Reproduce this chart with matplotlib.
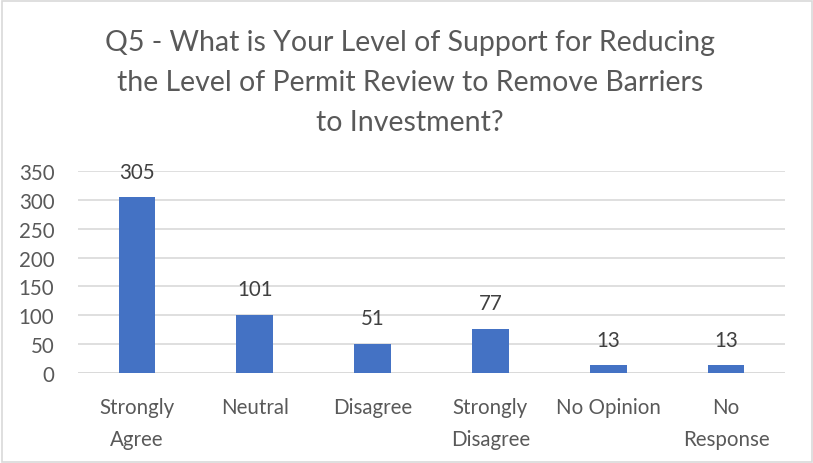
import matplotlib
matplotlib.use("Agg")
import matplotlib.pyplot as plt
from matplotlib.patches import Rectangle

categories = ["Strongly\nAgree", "Neutral", "Disagree", "Strongly\nDisagree", "No Opinion", "No\nResponse"]
values = [305, 101, 51, 77, 13, 13]
yticks = [0, 50, 100, 150, 200, 250, 300, 350]
title = "Q5 - What is Your Level of Support for Reducing\nthe Level of Permit Review to Remove Barriers\nto Investment?"

plt.rcParams['font.family'] = ['Lato', 'DejaVu Sans']
W, H = 813, 464
fig = plt.figure(figsize=(W/100, H/100), dpi=100)
ax = fig.add_axes([78/W, 1-374/H, (785-78)/W, (374-172)/H])

txt = "#595959"
fs = 14.8
x = list(range(len(values)))
ax.bar(x, values, width=0.31, color="#4472C4", zorder=3)
for xi, v in zip(x, values):
    ax.annotate(str(v), (xi, v), xytext=(0, 11), textcoords="offset points",
                ha="center", va="bottom", fontsize=fs, color="#404040")

ax.set_xlim(-0.5, len(values) - 0.5)
ax.set_ylim(0, 350)
ax.set_yticks(yticks)
ax.set_xticks(x)
ax.set_xticklabels(categories, fontsize=fs, color=txt, linespacing=1.75)
ax.tick_params(axis='y', labelsize=fs, labelcolor=txt, length=0, pad=17)
ax.tick_params(axis='x', length=0, pad=17)
ax.grid(axis='y', color="#D9D9D9", linewidth=1.2, zorder=0)
for s in ax.spines.values():
    s.set_visible(False)
ax.axhline(0, color="#D9D9D9", linewidth=1.2, zorder=2)

fig.text(410/W, 1-83/H, title, ha="center", va="center", fontsize=20.5, color=txt, linespacing=1.65)

fig.patches.append(Rectangle((1.5/W, 1.5/H), (W-3)/W, (H-3)/H, transform=fig.transFigure,
                             fill=False, edgecolor="#D9D9D9", linewidth=1.2))
fig.savefig("out.png", dpi=100)
